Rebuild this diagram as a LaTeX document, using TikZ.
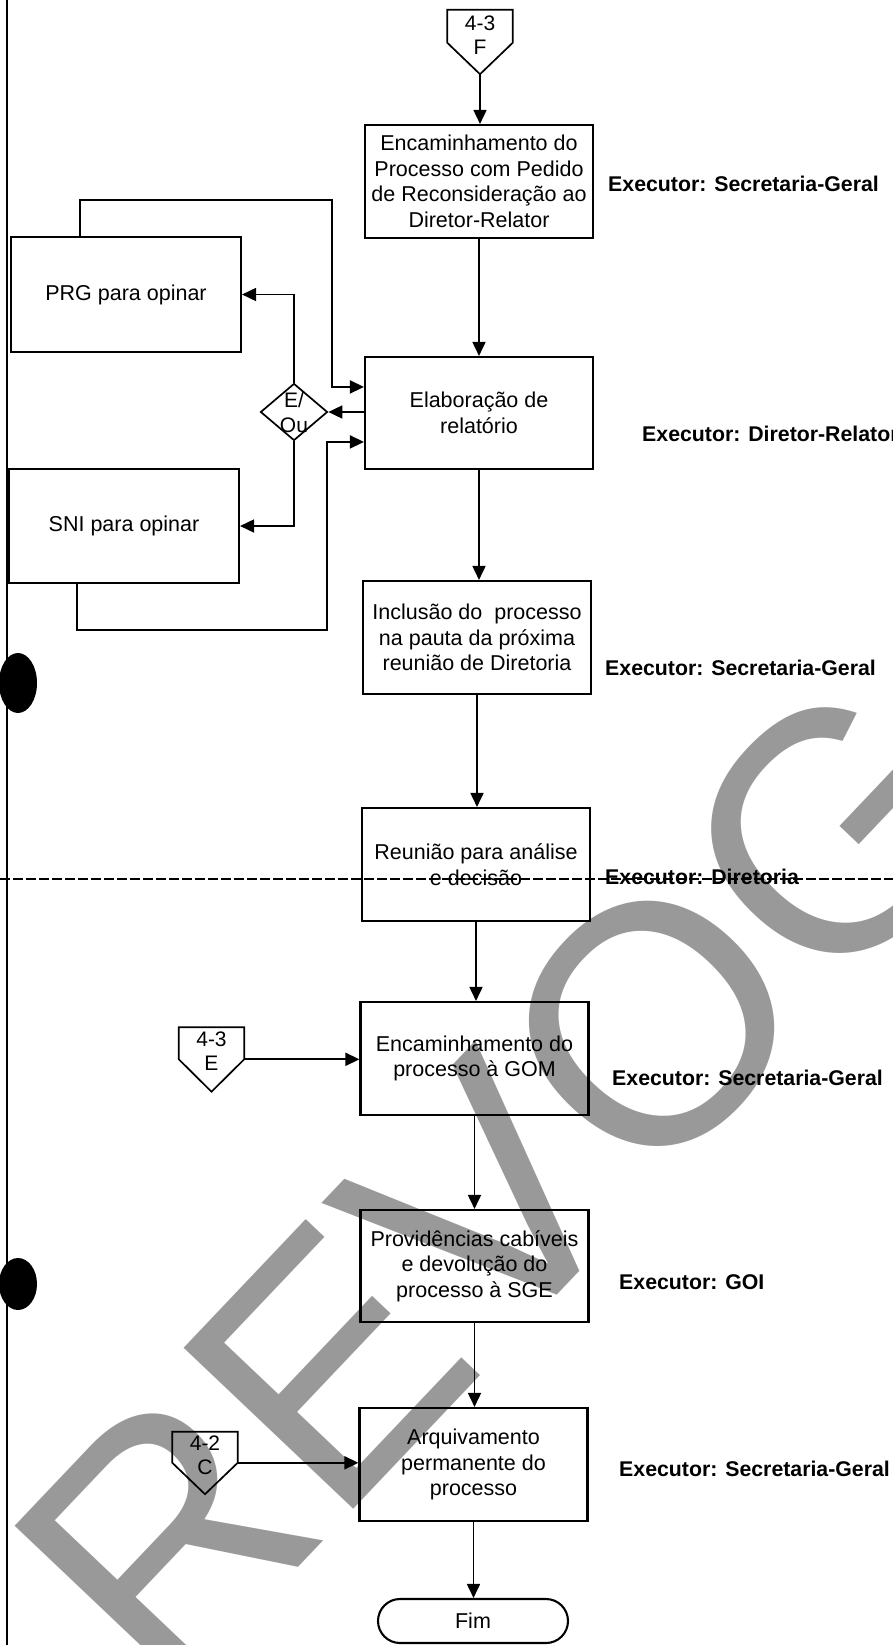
\documentclass[tikz,border=0pt]{standalone}
\usepackage{fontspec}
\setmainfont{Liberation Sans}
\usetikzlibrary{arrows.meta,shapes.geometric,calc}
\definecolor{wm}{RGB}{153,153,153}
\begin{document}
\begin{tikzpicture}[x=1pt,y=-1pt,
  txt/.style={font=\fontsize{21.5}{25.5}\selectfont},
  box/.style={txt, draw, line width=2.1pt, minimum width=228pt, minimum height=113pt, align=center, inner sep=2pt},
  side/.style={box, minimum width=230pt, minimum height=115pt},
  arr/.style={line width=1.7pt, -{Triangle[length=14pt,width=13pt]}},
  ln/.style={line width=1.7pt},
  exe/.style={anchor=west, inner sep=0pt, font=\fontsize{21.3}{25}\selectfont\bfseries},
  offp/.style={draw=none, minimum width=65pt, minimum height=64pt, inner sep=0pt},
  offt/.style={txt, align=center, inner sep=0pt, font=\fontsize{21}{24}\selectfont}
]
\useasboundingbox (0,0) rectangle (893,1645);
\clip (0,0) rectangle (893,1645);

% watermark
\node[text=wm, rotate=46.5, anchor=base west, inner sep=0pt, font=\fontsize{340}{340}\selectfont] (wmark) at (165,1708) {REVOGADO};

% scan marks
\fill (18,683) ellipse [x radius=19pt, y radius=30pt];
\fill (18,1284) ellipse [x radius=19pt, y radius=26pt];
\draw[line width=2pt] (7,0) -- (7,1645);
\draw[line width=1.2pt, dash pattern=on 10pt off 3pt] (0,879) -- (893,879);

% off-page connectors
\node[offp] (cF) at (480,42) {};
\draw[ln] (cF.north west) -- (cF.north east) -- ($(cF.north east)+(0,33)$) -- (cF.south) -- ($(cF.north west)+(0,33)$) -- cycle;
\node[offt] (cFt) at ($(cF.north)+(0,25)$) {4-3\\F};

\node[offp] (cE) at (211.5,1059.5) {};
\draw[ln] (cE.north west) -- (cE.north east) -- ($(cE.north east)+(0,32)$) -- (cE.south) -- ($(cE.north west)+(0,32)$) -- cycle;
\node[offt] (cEt) at ($(cE.north)+(0,24)$) {4-3\\E};

\node[offp, minimum height=62pt] (cC) at (205,1463) {};
\draw[ln] (cC.north west) -- (cC.north east) -- ($(cC.north east)+(0,31)$) -- (cC.south) -- ($(cC.north west)+(0,31)$) -- cycle;
\node[offt] (cCt) at ($(cC.north)+(0,23)$) {4-2\\C};

% process boxes
\node[box] (b1) at (479,181.5) {Encaminhamento do\\Processo com Pedido\\de Reconsideração ao\\Diretor-Relator};
\node[box, minimum height=112pt] (b2) at (479,413) {Elaboração de\\relatório};
\node[box] (b3) at (477,637.5) {Inclusão do~ processo\\na pauta da próxima\\reunião de Diretoria};
\node[box] (b4) at (476,864.5) {Reunião para análise\\e decisão};
\node[box] (b5) at (474.5,1058.5) {Encaminhamento do\\processo à GOM};
\node[box, minimum height=112pt] (b6) at (474.5,1266) {Providências cabíveis\\e devolução do\\processo à SGE};
\node[box] (b7) at (473.5,1464.5) {Arquivamento\\permanente do\\processo};
\node[txt, draw, line width=2.1pt, rounded corners=22pt, minimum width=190pt, minimum height=44pt] (fim) at (473,1621) {Fim};

\node[side] (prg) at (126,294.5) {PRG para opinar};
\node[side, minimum height=114pt] (sni) at (124,526) {SNI para opinar};
\node[draw, shape=diamond, line width=1.7pt, minimum width=67pt, minimum height=57pt, inner sep=0pt] (dia) at (294,412) {};
\node[txt, align=center, inner sep=0pt, font=\fontsize{21}{25}\selectfont] (diat) at (294,412.5) {E/\\Ou};

% main flow
\draw[arr] (cF.south) -- (cF.south |- b1.north);
\draw[arr] (b1.south) -- (b1.south |- b2.north);
\draw[arr] (b2.south) -- (b2.south |- b3.north);
\draw[arr] (b3.south) -- (b3.south |- b4.north);
\draw[arr] (b4.south) -- (b4.south |- b5.north);
\draw[arr] (b5.south) -- (b5.south |- b6.north);
\draw[arr] (b6.south) -- (b6.south |- b7.north);
\draw[arr] (b7.south) -- (b7.south |- fim.north);

% branches
\draw[arr] (b2.west |- dia.east) -- (dia.east);
\draw[arr] (dia.north) |- (prg.east);
\draw[arr] (dia.south) |- (sni.east);

\coordinate (p1) at ($(prg.north west)+(70,0)$);
\coordinate (lpT) at (332,200);
\coordinate (inT) at ($(b2.north west)+(0,31)$);
\draw[arr] (p1) |- (lpT) |- (inT);

\coordinate (p2) at ($(sni.south west)+(69,0)$);
\coordinate (lpB) at (327,630);
\coordinate (inB) at ($(b2.north west)+(0,86)$);
\draw[arr] (p2) |- (lpB) |- (inB);

\coordinate (cEr) at ($(cE.north east)+(0,32)$);
\draw[arr] (cEr) -- (cEr -| b5.west);
\coordinate (cCr) at ($(cC.north east)+(0,31)$);
\draw[arr] (cCr) -- (cCr -| b7.west);

% executors
\node[exe] (ex1) at (608,184) {Executor: Secretaria-Geral};
\node[exe] (ex2) at (642,434) {Executor: Diretor-Relator};
\node[exe] (ex3) at (605,668) {Executor: Secretaria-Geral};
\node[exe] (ex4) at (605,877) {Executor: Diretoria};
\node[exe] (ex5) at (612,1078) {Executor: Secretaria-Geral};
\node[exe] (ex6) at (619,1282) {Executor: GOI};
\node[exe] (ex7) at (619,1469) {Executor: Secretaria-Geral};
\end{tikzpicture}
\end{document}
